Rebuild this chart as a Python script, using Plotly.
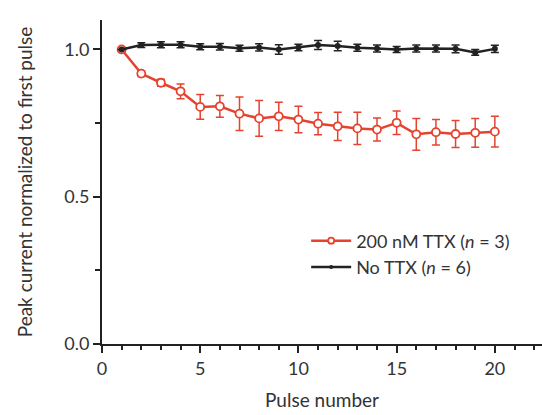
import plotly.graph_objects as go

pulse = list(range(1, 21))
ttx_mean = [1.0, 0.918, 0.887, 0.858, 0.805, 0.807, 0.782, 0.766, 0.773, 0.762,
            0.748, 0.739, 0.732, 0.728, 0.751, 0.712, 0.719, 0.713, 0.717, 0.721]
ttx_err = [0.0, 0.010, 0.012, 0.025, 0.042, 0.037, 0.057, 0.061, 0.048, 0.045,
           0.038, 0.048, 0.055, 0.039, 0.040, 0.054, 0.043, 0.046, 0.049, 0.052]
nottx_mean = [1.0, 1.015, 1.016, 1.016, 1.009, 1.009, 1.004, 1.007, 1.0, 1.007,
              1.015, 1.012, 1.006, 1.003, 1.0, 1.003, 1.003, 1.002, 0.99, 1.002]
nottx_err = [0.0, 0.008, 0.010, 0.010, 0.010, 0.011, 0.010, 0.012, 0.016, 0.011,
             0.015, 0.016, 0.012, 0.012, 0.010, 0.012, 0.012, 0.013, 0.010, 0.012]

red = "#e5432f"
black = "#222222"
font = "Lato"

fig = go.Figure()
fig.add_trace(go.Scatter(
    x=pulse, y=ttx_mean, mode="lines+markers",
    line=dict(color=red, width=2.5),
    marker=dict(symbol="circle", size=8, color="white", line=dict(color=red, width=1.8)),
    error_y=dict(type="data", array=ttx_err, color=red, thickness=1.5, width=4),
    showlegend=False))
fig.add_trace(go.Scatter(
    x=pulse, y=nottx_mean, mode="lines+markers",
    line=dict(color=black, width=2.5),
    marker=dict(symbol="circle", size=6, color=black),
    error_y=dict(type="data", array=nottx_err, color=black, thickness=1.5, width=4),
    showlegend=False))
# legend entries
fig.add_trace(go.Scatter(
    x=[None], y=[None], mode="lines+markers", name="200 nM TTX (<i>n</i> = 3)",
    line=dict(color=red, width=2.5),
    marker=dict(symbol="circle", size=6, color="white", line=dict(color=red, width=1.8))))
fig.add_trace(go.Scatter(
    x=[None], y=[None], mode="lines+markers", name="No TTX (<i>n</i> = 6)",
    line=dict(color=black, width=2.5),
    marker=dict(symbol="circle", size=4, color=black)))

fig.update_layout(
    width=542, height=415,
    margin=dict(l=102, r=0, t=20, b=71),
    paper_bgcolor="white", plot_bgcolor="white",
    font=dict(family=font, size=18, color="#333333"),
    legend=dict(x=0.464, y=0.375, xanchor="left", yanchor="top",
                bgcolor="rgba(0,0,0,0)", font=dict(size=18, color="#333333"),
                tracegroupgap=0, itemwidth=40),
)
fig.update_xaxes(
    range=[0, 22.4], tickvals=[0, 5, 10, 15, 20], ticks="outside", ticklen=7, tickwidth=2,
    tickcolor=black, showline=True, linecolor=black, linewidth=2, showgrid=False,
    zeroline=False, minor=dict(dtick=1, ticks="outside", ticklen=4, tickwidth=1.5, tickcolor=black),
    title=dict(text="Pulse number", standoff=16, font=dict(size=19)),
    tickfont=dict(size=18))
fig.update_yaxes(
    range=[0, 1.1], tickvals=[0, 0.5, 1.0], tickformat=".1f", ticks="outside", ticklen=7, tickwidth=2,
    tickcolor=black, showline=True, linecolor=black, linewidth=2, showgrid=False,
    zeroline=False, minor=dict(dtick=0.25, ticks="outside", ticklen=5, tickwidth=1.5, tickcolor=black),
    title=dict(text="Peak current normalized to first pulse", standoff=27, font=dict(size=19)),
    tickfont=dict(size=18))

fig.write_html("out.html")
